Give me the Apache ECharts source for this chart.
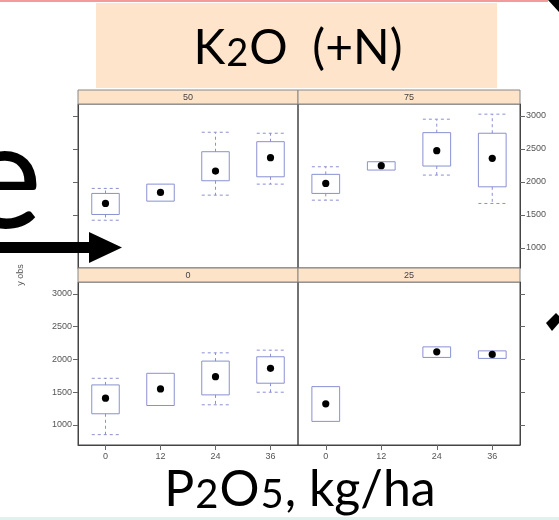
<!DOCTYPE html>
<html>
<head>
<meta charset="utf-8">
<script src="https://cdn.jsdelivr.net/npm/echarts@6/dist/echarts.min.js"></script>
<style>
html,body{margin:0;padding:0;background:#fff;}
#chart{width:559px;height:520px;}
</style>
</head>
<body>
<div id="chart"></div>
<script>
// ---- data ----
const categories = ['0', '12', '24', '36'];
const panelNames = ['50', '75', '0', '25'];
const yTicks = [1000, 1500, 2000, 2500, 3000];
// each row: [categoryIndex, lowerWhisker, Q1, median, Q3, upperWhisker]
const panel50 = [
  [0, 1419, 1506, 1673, 1825, 1901],
  [1, 1708, 1708, 1840, 1966, 1966],
  [2, 1799, 2017, 2164, 2457, 2752],
  [3, 1966, 2077, 2366, 2609, 2737]
];
const panel75 = [
  [0, 1723, 1825, 1977, 2114, 2229],
  [1, 2179, 2179, 2245, 2305, 2305],
  [2, 2103, 2240, 2473, 2746, 2950],
  [3, 1673, 1925, 2357, 2737, 3026]
];
const panel0 = [
  [0, 853, 1171, 1409, 1611, 1712],
  [1, 1297, 1297, 1550, 1788, 1788],
  [2, 1308, 1459, 1737, 1974, 2100],
  [3, 1500, 1637, 1864, 2040, 2141]
];
const panel25 = [
  [0, 1055, 1055, 1323, 1585, 1585],
  [2, 2030, 2030, 2115, 2191, 2191],
  [3, 2015, 2015, 2076, 2130, 2130]
];
const panelData = [panel50, panel75, panel0, panel25];
const yTitle = 'y obs';

// ---- layout ----
const L = 78, MID = 298, R = 520;
const stripH = 14;
const topStrip = 90, topPanel = topStrip + stripH, topBottom = 268;
const botStrip = 268, botPanel = botStrip + stripH, botBottom = 445;
const rects = [
  {left: L, top: topPanel, width: MID - L, height: topBottom - topPanel},
  {left: MID, top: topPanel, width: R - MID, height: topBottom - topPanel},
  {left: L, top: botPanel, width: MID - L, height: botBottom - botPanel},
  {left: MID, top: botPanel, width: R - MID, height: botBottom - botPanel}
];
const stripTops = [topStrip, topStrip, botStrip, botStrip];
const boxColor = '#8a90d2';
const tickColor = '#666';

const grids = rects.map(r => ({
  left: r.left, top: r.top, width: r.width, height: r.height,
  show: true, borderColor: '#444', borderWidth: 1, backgroundColor: 'transparent'
}));

const xAxes = rects.map((r, i) => ({
  type: 'category', gridIndex: i, data: categories, boundaryGap: true,
  axisLine: {show: true, lineStyle: {color: '#444'}},
  axisTick: {show: i >= 2, alignWithLabel: true, length: 5, lineStyle: {color: tickColor}},
  axisLabel: {show: i >= 2, color: '#555', fontSize: 9, margin: 7, fontFamily: 'Liberation Sans'},
  splitLine: {show: false}
}));

const yAxes = rects.map((r, i) => ({
  type: 'value', gridIndex: i, min: 695, max: 3180,
  position: (i % 2 === 0) ? 'left' : 'right',
  axisLine: {show: true, lineStyle: {color: '#444'}},
  axisTick: {show: true, length: 5, customValues: yTicks, lineStyle: {color: tickColor}},
  axisLabel: {show: i === 1 || i === 2, customValues: yTicks, formatter: v => String(v),
    color: '#555', fontSize: 9, margin: 6, fontFamily: 'Liberation Sans'},
  splitLine: {show: false}
}));

function renderBox(params, api) {
  const x = api.value(0);
  const lo = api.coord([x, api.value(1)]);
  const q1 = api.coord([x, api.value(2)]);
  const md = api.coord([x, api.value(3)]);
  const q3 = api.coord([x, api.value(4)]);
  const hi = api.coord([x, api.value(5)]);
  const bw = api.size([1, 0])[0] * 0.5;
  const cx = md[0];
  const solid = {stroke: boxColor, fill: 'none', lineWidth: 1};
  const dash = {stroke: boxColor, fill: 'none', lineWidth: 1, lineDash: [3, 3]};
  const children = [];
  children.push({type: 'rect', shape: {x: cx - bw / 2, y: q3[1], width: bw, height: q1[1] - q3[1]}, style: solid});
  if (hi[1] < q3[1] - 0.5) {
    children.push({type: 'line', shape: {x1: cx, y1: q3[1], x2: cx, y2: hi[1]}, style: dash});
    children.push({type: 'line', shape: {x1: cx - bw / 2, y1: hi[1], x2: cx + bw / 2, y2: hi[1]}, style: dash});
  }
  if (lo[1] > q1[1] + 0.5) {
    children.push({type: 'line', shape: {x1: cx, y1: q1[1], x2: cx, y2: lo[1]}, style: dash});
    children.push({type: 'line', shape: {x1: cx - bw / 2, y1: lo[1], x2: cx + bw / 2, y2: lo[1]}, style: dash});
  }
  children.push({type: 'circle', shape: {cx: cx, cy: md[1], r: 3.6}, style: {fill: '#000'}});
  return {type: 'group', children: children};
}

const series = panelData.map((d, i) => ({
  type: 'custom', xAxisIndex: i, yAxisIndex: i, data: d,
  encode: {x: 0, y: [1, 2, 3, 4, 5]},
  renderItem: renderBox, silent: true
}));

const bigRich = {
  a: {fontSize: 48, fontFamily: 'Lato', color: '#111', verticalAlign: 'bottom'},
  d: {fontSize: 38, fontFamily: 'Lato', color: '#111', verticalAlign: 'bottom', padding: [0, 1, 0, 1]}
};

const graphics = [];
// top pink line and corner
graphics.push({type: 'rect', shape: {x: 0, y: 0, width: 548, height: 2}, style: {fill: '#f39a9a'}});
graphics.push({type: 'polygon', shape: {points: [[548, 0], [559, 0], [559, 12]]}, style: {fill: '#000'}});
// title box
graphics.push({type: 'rect', shape: {x: 96, y: 3, width: 401, height: 85}, style: {fill: '#fee4cb'}});
graphics.push({type: 'text', x: 298, y: 49, style: {text: '{a|K}{d|2}{a|O  (+N)}', rich: bigRich, align: 'center', verticalAlign: 'middle'}});
// strips
rects.forEach((r, i) => {
  graphics.push({type: 'rect', shape: {x: r.left, y: stripTops[i], width: r.width, height: stripH},
    style: {fill: '#fde3c8', stroke: '#888', lineWidth: 1}, z: 10});
  graphics.push({type: 'text', x: r.left + r.width / 2, y: stripTops[i] + stripH / 2 + 0.5,
    style: {text: panelNames[i], font: '9px "Liberation Sans"', fill: '#444', align: 'center', verticalAlign: 'middle'}, z: 11});
});
// y title
graphics.push({type: 'text', x: 21, y: 275, rotation: Math.PI / 2,
  style: {text: yTitle, font: '9px "Liberation Sans"', fill: '#555', align: 'center', verticalAlign: 'middle'}});
// x title
graphics.push({type: 'text', x: 300, y: 490, style: {text: '{a|P}{d|2}{a|O}{d|5}{a|, kg/ha}', rich: {
  a: {fontSize: 50, fontFamily: 'Lato', color: '#111', verticalAlign: 'bottom'},
  d: {fontSize: 40, fontFamily: 'Lato', color: '#111', verticalAlign: 'bottom', padding: [0, 1, 0, 1]}
}, align: 'center', verticalAlign: 'middle'}});
// slide fragments: big letter and arrows
graphics.push({type: 'text', x: -37, y: 255, style: {text: 'e', font: '150px Lato', fill: '#000', align: 'left', verticalAlign: 'bottom'}});
graphics.push({type: 'polygon', shape: {points: [[0, 242], [89, 242], [89, 232], [122, 247.5], [89, 263], [89, 253], [0, 253]]}, style: {fill: '#000'}, z: 20});
graphics.push({type: 'polygon', shape: {points: [[546, 323], [556, 313], [559, 316], [559, 323], [552, 331]]}, style: {fill: '#000'}});
// bottom pale line
graphics.push({type: 'rect', shape: {x: 0, y: 517, width: 559, height: 3}, style: {fill: '#e3f1ee'}});

const chart = echarts.init(document.getElementById('chart'), null, {renderer: 'canvas'});
chart.setOption({
  animation: false,
  backgroundColor: '#fff',
  grid: grids,
  xAxis: xAxes,
  yAxis: yAxes,
  series: series,
  graphic: graphics
});
</script>
</body>
</html>
